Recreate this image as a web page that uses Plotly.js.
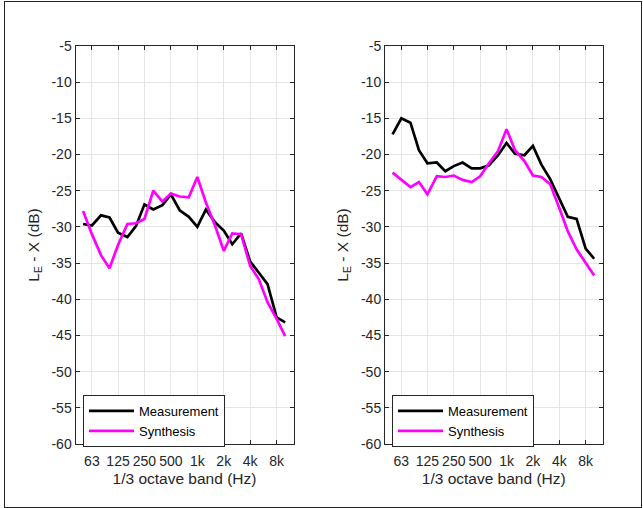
<!DOCTYPE html>
<html>
<head>
<meta charset="utf-8">
<script src="https://cdn.plot.ly/plotly-3.0.1.min.js"></script>
<style>
html,body{margin:0;padding:0;background:#fff;}
#wrap{position:relative;width:643px;height:508px;}
#chart{position:absolute;left:0;top:0;width:643px;height:508px;}
#frame{position:absolute;left:4px;top:1px;width:636px;height:505px;border:1px solid #222;pointer-events:none;}
</style>
</head>
<body>
<div id="wrap"><div id="chart"></div><div id="frame"></div></div>
<script>
// 1/3 octave band centre frequencies (Hz)
const bands = [50, 63, 80, 100, 125, 160, 200, 250, 315, 400, 500, 630, 800, 1000, 1250, 1600, 2000, 2500, 3150, 4000, 5000, 6300, 8000, 10000];

// Left panel
const leftMeasurement = [-29.6, -29.8, -28.4, -28.7, -30.8, -31.4, -29.9, -26.9, -27.6, -27.0, -25.5, -27.7, -28.6, -30.0, -27.6, -29.4, -30.5, -32.4, -30.9, -34.8, -36.3, -37.9, -42.5, -43.2];
const leftSynthesis   = [-27.8, -31.0, -33.9, -35.7, -32.5, -29.6, -29.5, -28.9, -25.0, -26.5, -25.4, -25.8, -25.9, -23.1, -26.6, -29.9, -33.3, -30.9, -31.0, -35.4, -37.2, -40.4, -42.7, -45.1];

// Right panel
const rightMeasurement = [-17.2, -15.0, -15.6, -19.4, -21.2, -21.1, -22.3, -21.6, -21.1, -21.9, -21.9, -21.5, -20.1, -18.4, -19.9, -20.1, -18.8, -21.4, -23.4, -26.2, -28.6, -28.9, -33.0, -34.4];
const rightSynthesis   = [-22.5, -23.5, -24.5, -23.8, -25.5, -23.0, -23.1, -22.9, -23.5, -23.8, -23.0, -21.2, -19.5, -16.5, -19.4, -20.9, -22.9, -23.1, -24.1, -27.4, -30.6, -33.1, -35.0, -36.7];

const xTickVals = [63, 125, 250, 500, 1000, 2000, 4000, 8000];
const xTickText = ['63', '125', '250', '500', '1k', '2k', '4k', '8k'];
const yTickVals = [-60, -55, -50, -45, -40, -35, -30, -25, -20, -15, -10, -5];
const yTickText = ['-60', '-55', '-50', '-45', '-40', '-35', '-30', '-25', '-20', '-15', '-10', '-5'];

const seriesNames = ['Measurement', 'Synthesis'];
const seriesColors = ['#000000', '#ff00ff'];

const FONT = 'Liberation Sans, Arial, Helvetica, sans-serif';
const AX = '#262626';

function line(y, i, xa, ya, leg) {
  return {
    x: bands, y: y, type: 'scatter', mode: 'lines',
    name: seriesNames[i], xaxis: xa, yaxis: ya, legend: leg,
    line: {color: seriesColors[i], width: 2.7},
    hoverinfo: 'skip'
  };
}

const data = [
  line(leftMeasurement, 0, 'x', 'y', 'legend'),
  line(leftSynthesis, 1, 'x', 'y', 'legend'),
  line(rightMeasurement, 0, 'x2', 'y2', 'legend2'),
  line(rightSynthesis, 1, 'x2', 'y2', 'legend2')
];

function xAxis(dom, anchor) {
  return {
    domain: dom, anchor: anchor, type: 'log',
    range: [Math.log10(41), Math.log10(12450)],
    tickvals: xTickVals, ticktext: xTickText,
    ticks: 'inside', ticklen: 4, tickwidth: 1, tickcolor: AX,
    ticklabelstandoff: 4,
    showline: true, linecolor: AX, linewidth: 1, mirror: 'ticks',
    showgrid: true, gridcolor: '#e6e6e6', gridwidth: 1,
    zeroline: false,
    tickfont: {family: FONT, size: 14, color: AX},
    title: {text: '1/3 octave band (Hz)', font: {family: FONT, size: 15.5, color: AX}, standoff: 5}
  };
}
function yAxis(dom, anchor) {
  return {
    domain: dom, anchor: anchor,
    range: [-60, -5],
    tickvals: yTickVals, ticktext: yTickText,
    ticks: 'inside', ticklen: 4, tickwidth: 1, tickcolor: AX,
    showline: true, linecolor: AX, linewidth: 1, mirror: 'ticks',
    showgrid: true, gridcolor: '#e6e6e6', gridwidth: 1,
    zeroline: false,
    tickfont: {family: FONT, size: 14, color: AX},
    title: {text: 'L<sub>E</sub> - X (dB)', font: {family: FONT, size: 15.5, color: AX}, standoff: 8}
  };
}
function legend(x) {
  return {
    x: x, y: (508 - 395) / 508, xanchor: 'left', yanchor: 'top',
    xref: 'paper', yref: 'paper',
    bgcolor: '#ffffff', bordercolor: AX, borderwidth: 1,
    font: {family: FONT, size: 13, color: '#000'},
    tracegroupgap: 0, itemwidth: 45
  };
}

const yDom = [(508 - 444) / 508, (508 - 46) / 508];
const layout = {
  width: 643, height: 508,
  margin: {l: 0, r: 0, t: 0, b: 0},
  paper_bgcolor: '#ffffff', plot_bgcolor: '#ffffff',
  showlegend: true,
  xaxis: xAxis([75.5 / 643, 293.5 / 643], 'y'),
  yaxis: yAxis(yDom, 'x'),
  xaxis2: xAxis([385 / 643, 602.5 / 643], 'y2'),
  yaxis2: yAxis(yDom, 'x2'),
  legend: legend(83 / 643),
  legend2: legend(392 / 643)
};

Plotly.newPlot('chart', data, layout, {staticPlot: true, displayModeBar: false});
</script>
</body>
</html>
